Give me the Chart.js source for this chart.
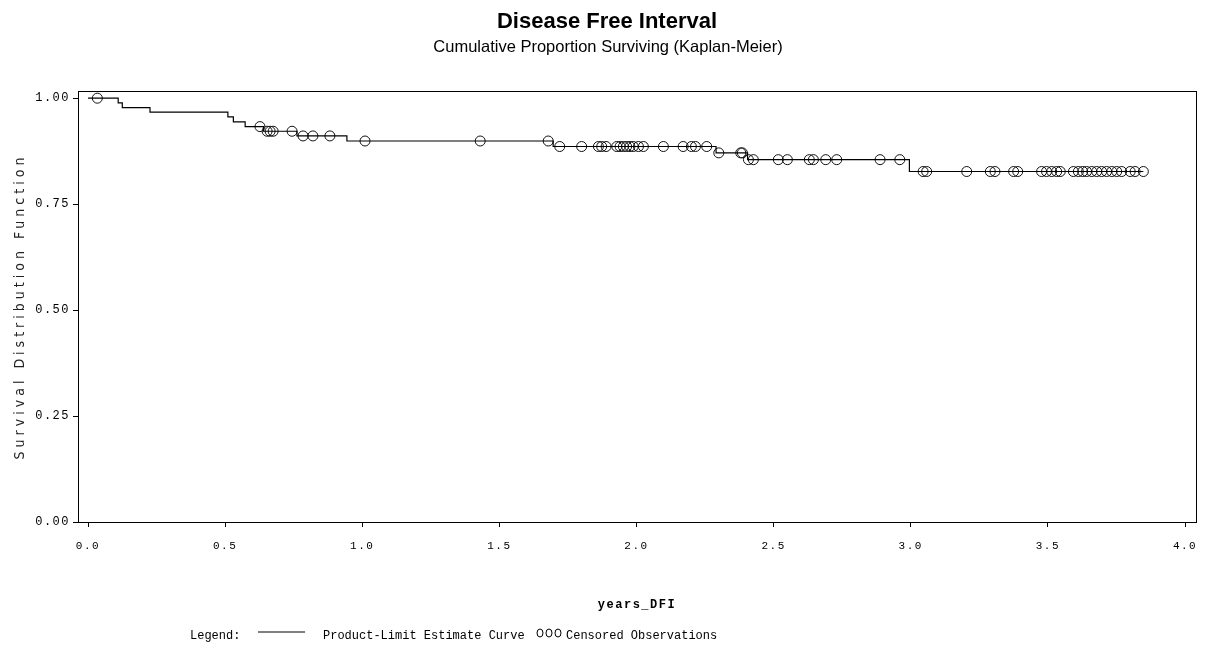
<!DOCTYPE html>
<html>
<head>
<meta charset="utf-8">
<script src="https://cdn.jsdelivr.net/npm/chart.js@4"></script>
<style>
    html, body { margin: 0; padding: 0; background: #fff; }
    #wrap { width: 1214px; height: 646px; }
</style>
</head>
<body>
<div id="wrap"><canvas id="chart" width="1214" height="646"></canvas></div>
<script>
// Kaplan-Meier step points (time in years, survival after the step)
const stepTimes = [0, 0.11, 0.125, 0.226, 0.51, 0.53, 0.573, 0.64, 0.762, 0.944, 1.696, 2.29, 2.405, 2.995, 3.848];
const stepSurvival = [1.0, 0.989, 0.978, 0.967, 0.956, 0.944, 0.933, 0.922, 0.911, 0.899, 0.886, 0.871, 0.855, 0.827, 0.827];

// Censored observation times
const censorTimes = [
    0.034, 0.627, 0.653, 0.664, 0.675, 0.744, 0.784, 0.82, 0.882, 1.01,
    1.43, 1.678, 1.72, 1.80, 1.861, 1.873, 1.889, 1.928, 1.94, 1.952,
    1.964, 1.976, 1.988, 2.007, 2.025, 2.098, 2.17, 2.20, 2.215, 2.256,
    2.30, 2.38, 2.386, 2.408, 2.426, 2.517, 2.55, 2.63, 2.645, 2.69,
    2.73, 2.888, 2.96, 3.045, 3.058, 3.204, 3.29, 3.307, 3.375, 3.39,
    3.477, 3.495, 3.514, 3.532, 3.545, 3.593, 3.611, 3.627, 3.641, 3.66,
    3.678, 3.696, 3.714, 3.733, 3.751, 3.769, 3.80, 3.818, 3.848
];

const xTicks = [0, 0.5, 1.0, 1.5, 2.0, 2.5, 3.0, 3.5, 4.0];
const yTicks = [0, 0.25, 0.5, 0.75, 1.0];

const titleText = 'Disease Free Interval';
const subtitleText = 'Cumulative Proportion Surviving (Kaplan-Meier)';
const yTitleText = 'Survival Distribution Function';

// survival level of the step curve at time t
function levelAt(t) {
    let s = stepSurvival[0];
    for (let i = 0; i < stepTimes.length; i++) {
        if (stepTimes[i] <= t) s = stepSurvival[i];
    }
    return s;
}

const mono = '"Liberation Mono", "DejaVu Sans Mono", monospace';

// wider letter spacing for the axis text, like the SAS output
const spacingPlugin = {
    id: 'spacing',
    beforeDraw(chart) {
        chart.ctx.save();
        chart.ctx.letterSpacing = '1.5px';
    },
    afterDatasetsDraw(chart) {
        chart.ctx.restore();
    }
};

// frame, titles and the legend line
const decorPlugin = {
    id: 'decor',
    afterDraw(chart) {
        const ctx = chart.ctx;
        const a = chart.chartArea;
        ctx.save();
        ctx.letterSpacing = '0px';
        ctx.strokeStyle = '#000';
        ctx.lineWidth = 1;
        ctx.strokeRect(a.left + 0.5, a.top + 0.5, a.right - a.left, a.bottom - a.top);

        ctx.fillStyle = '#000';
        ctx.textAlign = 'center';
        ctx.textBaseline = 'middle';
        ctx.font = 'bold 22px "Liberation Sans", Arial, sans-serif';
        ctx.fillText(titleText, 607, 22);
        ctx.font = '16.5px "Liberation Sans", Arial, sans-serif';
        ctx.fillText(subtitleText, 608, 47);

        // y axis title
        ctx.save();
        ctx.translate(20, (a.top + a.bottom) / 2);
        ctx.rotate(-Math.PI / 2);
        ctx.font = '14px "DejaVu Sans Condensed", "Liberation Sans Narrow", sans-serif';
        ctx.letterSpacing = '4px';
        ctx.fillStyle = '#222';
        ctx.fillText(yTitleText, 0, 0);
        ctx.restore();

        // legend
        const ly = 636;
        ctx.textAlign = 'left';
        ctx.font = '12px ' + mono;
        ctx.fillText('Legend:', 190, ly);
        ctx.beginPath();
        ctx.moveTo(258, ly - 4);
        ctx.lineTo(305, ly - 4);
        ctx.lineWidth = 1.2;
        ctx.stroke();
        ctx.fillText('Product-Limit Estimate Curve', 323, ly);
        ctx.lineWidth = 1;
        [540, 549, 558].forEach(cx => {
            ctx.beginPath();
            ctx.ellipse(cx, ly - 3, 3, 4, 0, 0, Math.PI * 2);
            ctx.stroke();
        });
        ctx.fillText('Censored Observations', 566, ly);
        ctx.restore();
    }
};

const ctx = document.getElementById('chart').getContext('2d');

new Chart(ctx, {
    type: 'scatter',
    data: {
        datasets: [
            {
                type: 'line',
                label: 'Product-Limit Estimate Curve',
                data: stepTimes.map((t, i) => ({ x: t, y: stepSurvival[i] })),
                stepped: 'before',
                borderColor: '#000',
                borderWidth: 1.2,
                pointRadius: 0,
                fill: false
            },
            {
                type: 'scatter',
                label: 'Censored Observations',
                data: censorTimes.map(t => ({ x: t, y: levelAt(t) })),
                pointStyle: 'circle',
                pointRadius: 5,
                borderColor: '#111',
                borderWidth: 1,
                backgroundColor: 'rgba(0,0,0,0)'
            }
        ]
    },
    options: {
        responsive: false,
        animation: false,
        layout: { padding: { left: 10, right: 18, top: 91, bottom: 30 } },
        plugins: {
            legend: { display: false },
            tooltip: { enabled: false }
        },
        scales: {
            x: {
                type: 'linear',
                min: -0.0365,
                max: 4.04,
                afterBuildTicks: s => { s.ticks = xTicks.map(v => ({ value: v })); },
                afterFit: s => { s.height = 94; },
                ticks: {
                    callback: v => v.toFixed(1),
                    font: { family: mono, size: 11 },
                    color: '#000',
                    autoSkip: false,
                    maxRotation: 0,
                    padding: 12
                },
                grid: { drawOnChartArea: false, drawTicks: true, tickLength: 5, color: '#000' },
                border: { display: true, color: '#000' },
                title: {
                    display: true,
                    text: 'years_DFI',
                    font: { family: mono, size: 12, weight: 'bold' },
                    color: '#000',
                    padding: { top: 0, bottom: 4 }
                }
            },
            y: {
                type: 'linear',
                min: 0,
                max: 1.017,
                afterBuildTicks: s => { s.ticks = yTicks.map(v => ({ value: v })); },
                afterFit: s => { s.width = 68; },
                ticks: {
                    callback: v => v.toFixed(2),
                    font: { family: mono, size: 12 },
                    color: '#000',
                    padding: 3
                },
                grid: { drawOnChartArea: false, drawTicks: true, tickLength: 5, color: '#000' },
                border: { display: true, color: '#000' }
            }
        }
    },
    plugins: [spacingPlugin, decorPlugin]
});
</script>
</body>
</html>
